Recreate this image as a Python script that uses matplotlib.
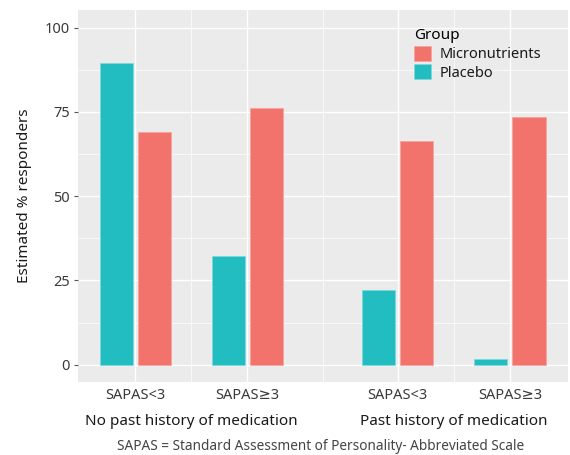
import numpy as np
import matplotlib.pyplot as plt

plt.rcParams['font.family'] = ['Noto Sans', 'DejaVu Sans']

# data
subgroups = ['SAPAS<3', 'SAPAS≥3', 'SAPAS<3', 'SAPAS≥3']
history = ['No past history of medication', 'Past history of medication']
placebo = [89.6, 32.2, 22.2, 1.7]
micronutrients = [68.9, 76.0, 66.3, 73.4]

teal = '#21BDC1'
salmon = '#F1736C'

# positions: two groups of two, wider gap between history groups
x = np.array([1.0, 2.0, 3.34, 4.34])
w = 0.295
off = 0.17

fig = plt.figure(figsize=(5.7, 4.55), dpi=100)
ax = fig.add_axes([0.137, 0.160, 0.860, 0.818])
ax.set_facecolor('#EBEBEB')

# grid: major at categories, minor between
ax.set_xticks(x)
ax.set_xticks([(x[0] + x[1]) / 2, (x[1] + x[2]) / 2, (x[2] + x[3]) / 2], minor=True)
ax.set_yticks([0, 25, 50, 75, 100])
ax.set_yticks([12.5, 37.5, 62.5, 87.5], minor=True)
ax.grid(True, which='major', color='white', linewidth=1.0)
ax.grid(True, which='minor', color='white', linewidth=0.5)
ax.set_axisbelow(True)

ax.bar(x - off, placebo, width=w, color=teal, edgecolor='#7fd8da', linewidth=0.5, label='Placebo')
ax.bar(x + off, micronutrients, width=w, color=salmon, edgecolor='#f6a39e', linewidth=0.5, label='Micronutrients')

ax.set_xlim(0.49, 4.86)
ax.set_ylim(-5.2, 105.2)

for s in ax.spines.values():
    s.set_visible(False)

ax.set_xticklabels(subgroups, fontsize=10.5, color='#3a3a3a')
ax.tick_params(axis='x', which='major', length=0, pad=4)
ax.tick_params(axis='x', which='minor', length=0)
ax.tick_params(axis='y', which='major', length=3, color='#555555', labelsize=10.5, labelcolor='#3a3a3a', pad=3)
ax.tick_params(axis='y', which='minor', length=0)

ax.set_ylabel('Estimated % responders', fontsize=11, color='#1a1a1a', labelpad=9)

# history group labels under tick labels
trans = ax.get_xaxis_transform()
for i, lab in enumerate(history):
    xc = (x[2 * i] + x[2 * i + 1]) / 2
    ax.text(xc, -0.105, lab, transform=trans, ha='center', va='center',
            fontsize=11, color='#1a1a1a')

fig.text(0.562, 0.018, 'SAPAS = Standard Assessment of Personality- Abbreviated Scale',
         ha='center', va='center', fontsize=9.8, color='#444444')

# legend (Micronutrients first)
h, l = ax.get_legend_handles_labels()
leg = ax.legend(h[::-1], l[::-1], title='Group', loc='upper left',
                bbox_to_anchor=(0.67, 0.97), frameon=False, fontsize=10.5,
                title_fontsize=11, handlelength=1.2, handleheight=1.2,
                handletextpad=0.6, labelspacing=0.15, borderpad=0)
leg._legend_box.align = 'left'
for t in leg.get_texts():
    t.set_color('#1a1a1a')

fig.savefig('out.png', dpi=100)
